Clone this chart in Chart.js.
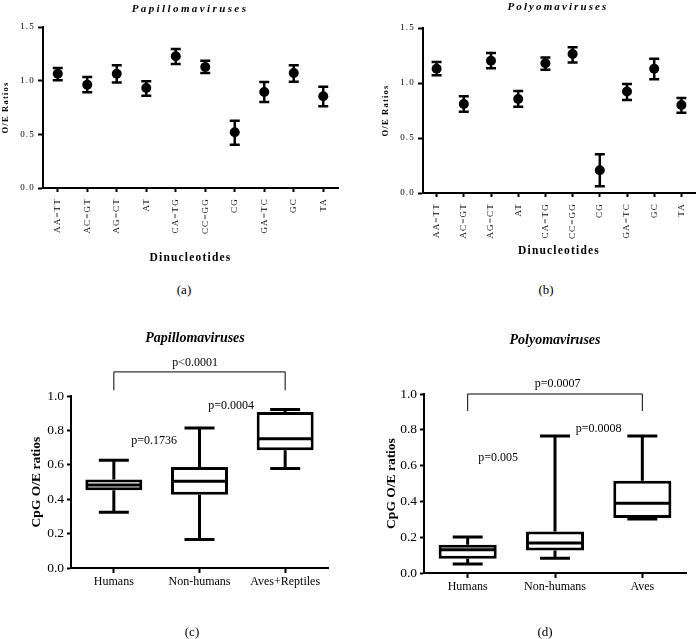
<!DOCTYPE html>
<html>
<head>
<meta charset="utf-8">
<script src="https://cdn.jsdelivr.net/npm/chart.js@4.4.1/dist/chart.umd.min.js"></script>
<style>
body { margin: 0; background: #fff; }
#page { position: relative; width: 700px; height: 639px; overflow: hidden; font-family: 'Liberation Serif', 'Times New Roman', serif; color: #000; }
canvas { position: absolute; }
.lbl { position: absolute; transform: translate(-50%, -50%); white-space: nowrap; line-height: 1; }
.ttlSmall { font-weight: bold; font-style: italic; font-size: 11px; }
.ttlBig { font-weight: bold; font-style: italic; font-size: 14px; }
.panel { font-size: 13px; }
</style>
</head>
<body>
<div id="page">
    <canvas id="papDinuc" width="350" height="270" style="left:0;top:0"></canvas>
    <canvas id="polDinuc" width="350" height="270" style="left:350px;top:0"></canvas>
    <canvas id="papBox" width="350" height="300" style="left:0;top:330px"></canvas>
    <canvas id="polBox" width="350" height="300" style="left:350px;top:330px"></canvas>

    <div class="lbl ttlSmall" style="left:190px;top:8px;letter-spacing:2.4px">Papillomaviruses</div>
    <div class="lbl ttlSmall" style="left:558px;top:6px;letter-spacing:2.1px">Polyomaviruses</div>
    <div class="lbl panel" style="left:184px;top:289px">(a)</div>
    <div class="lbl panel" style="left:546px;top:289px">(b)</div>
    <div class="lbl ttlBig" style="left:195px;top:338px">Papillomaviruses</div>
    <div class="lbl ttlBig" style="left:555px;top:340px">Polyomaviruses</div>
    <div class="lbl panel" style="left:192px;top:631px">(c)</div>
    <div class="lbl panel" style="left:545px;top:631px">(d)</div>
</div>

<script>
const serif = "'Liberation Serif', 'Times New Roman', serif";

// Dinucleotide O/E ratios, panels (a) and (b): mean with error bar ends
const dinucleotides = ['AA=TT', 'AC=GT', 'AG=CT', 'AT', 'CA=TG', 'CC=GG', 'CG', 'GA=TC', 'GC', 'TA'];
const papMeans = [1.065, 0.963, 1.065, 0.932, 1.227, 1.127, 0.519, 0.894, 1.071, 0.854];
const papLow   = [1.003, 0.891, 0.984, 0.860, 1.155, 1.071, 0.404, 0.801, 0.991, 0.761];
const papHigh  = [1.118, 1.034, 1.143, 0.994, 1.295, 1.186, 0.627, 0.988, 1.143, 0.944];
const polMeans = [1.129, 0.809, 1.202, 0.855, 1.180, 1.263, 0.207, 0.922, 1.129, 0.800];
const polLow   = [1.071, 0.739, 1.135, 0.785, 1.120, 1.186, 0.061, 0.846, 1.034, 0.730];
const polHigh  = [1.190, 0.879, 1.272, 0.928, 1.232, 1.326, 0.353, 0.992, 1.220, 0.864];
const dinucTicks = [0, 0.5, 1.0, 1.5];

// CpG O/E ratio box plots, panels (c) and (d)
const papHosts  = ['Humans', 'Non-humans', 'Aves+Reptiles'];
const papMin    = [0.324, 0.165, 0.578];
const papQ1     = [0.452, 0.426, 0.684];
const papMedian = [0.483, 0.504, 0.752];
const papQ3     = [0.515, 0.587, 0.907];
const papMax    = [0.626, 0.814, 0.921];

const polHosts  = ['Humans', 'Non-humans', 'Aves'];
const polMin    = [0.050, 0.082, 0.301];
const polQ1     = [0.080, 0.126, 0.307];
const polMedian = [0.130, 0.167, 0.390];
const polQ3     = [0.158, 0.232, 0.515];
const polMax    = [0.201, 0.766, 0.766];
const boxTicks  = [0, 0.2, 0.4, 0.6, 0.8, 1.0];

// p-value notes: text, category position, value position
const papNotes = [['p<0.0001', 0.95, 1.19], ['p=0.0004', 1.37, 0.94], ['p=0.1736', 0.47, 0.742]];
const polNotes = [['p=0.0007', 1.03, 1.056], ['p=0.0008', 1.5, 0.805], ['p=0.005', 0.35, 0.643]];
// brackets: from category, to category, top value, end value
const papBracket = [0, 2, 1.14, 1.033];
const polBracket = [0, 2, 1.0, 0.905];


/* Kicks off processes to build the four panels
*/
const init = () => {
    buildDinucChart('papDinuc', papMeans, papLow, papHigh,
        { top: 27, right: 12, yWidth: 43, xHeight: 82, yTitlePad: 1, xTitlePad: 5 });
    buildDinucChart('polDinuc', polMeans, polLow, polHigh,
        { top: 28, right: 2, yWidth: 73, xHeight: 77, yTitlePad: 31, xTitlePad: 12 });
    buildBoxChart('papBox', papHosts, papMin, papQ1, papMedian, papQ3, papMax, papNotes, papBracket,
        { top: 66, right: 22, yWidth: 71, xHeight: 62, yTitlePad: 28.6 });
    buildBoxChart('polBox', polHosts, polMin, polQ1, polMedian, polQ3, polMax, polNotes, polBracket,
        { top: 64, right: 14, yWidth: 74, xHeight: 57, yTitlePad: 33.6 });
}


// shared axis look: black outward tick marks, black axis line
const axisLook = (tickLen) => ({
    grid: { display: true, offset: false, drawOnChartArea: false, drawTicks: true,
            tickLength: tickLen, tickColor: '#000', tickWidth: 2 },
    border: { display: true, color: '#000', width: 2 }
});

// canvas letter spacing for the GraphPad-style small panels
const spacedText = (px) => ({
    id: 'spacedText',
    beforeDraw(chart) { chart.ctx.letterSpacing = px + 'px'; }
});

// vertical error bars with caps
const errorBars = (low, high) => ({
    id: 'errorBars',
    beforeDatasetsDraw(chart) {
        const { ctx, scales: { x, y } } = chart;
        ctx.save();
        ctx.strokeStyle = '#000';
        ctx.lineWidth = 2.5;
        low.forEach((lo, i) => {
            const px = x.getPixelForValue(i);
            const top = y.getPixelForValue(high[i]);
            const bot = y.getPixelForValue(lo);
            ctx.beginPath();
            ctx.moveTo(px, top); ctx.lineTo(px, bot);
            ctx.moveTo(px - 5, top); ctx.lineTo(px + 5, top);
            ctx.moveTo(px - 5, bot); ctx.lineTo(px + 5, bot);
            ctx.stroke();
        });
        ctx.restore();
    }
});

// whiskers and median lines on top of the floating bars
const whiskers = (min, q1, median, q3, max) => ({
    id: 'whiskers',
    afterDatasetsDraw(chart) {
        const { ctx, scales: { y } } = chart;
        const bars = chart.getDatasetMeta(0).data;
        ctx.save();
        ctx.strokeStyle = '#000';
        ctx.lineWidth = 3;
        bars.forEach((bar, i) => {
            const half = bar.width / 2;
            const cap = 15;
            const yMax = y.getPixelForValue(max[i]);
            const yMin = y.getPixelForValue(min[i]);
            ctx.beginPath();
            ctx.moveTo(bar.x, y.getPixelForValue(q3[i])); ctx.lineTo(bar.x, yMax);
            ctx.moveTo(bar.x - cap, yMax); ctx.lineTo(bar.x + cap, yMax);
            ctx.moveTo(bar.x, y.getPixelForValue(q1[i])); ctx.lineTo(bar.x, yMin);
            ctx.moveTo(bar.x - cap, yMin); ctx.lineTo(bar.x + cap, yMin);
            const yMed = y.getPixelForValue(median[i]);
            ctx.moveTo(bar.x - half + 1.5, yMed); ctx.lineTo(bar.x + half - 1.5, yMed);
            ctx.stroke();
        });
        ctx.restore();
    }
});

// significance bracket and p-value texts
const pValues = (notes, bracket) => ({
    id: 'pValues',
    afterDraw(chart) {
        const { ctx, scales: { x, y } } = chart;
        ctx.save();
        ctx.strokeStyle = '#000';
        ctx.lineWidth = 1;
        const x0 = x.getPixelForValue(bracket[0]);
        const x1 = x.getPixelForValue(bracket[1]);
        const yTop = y.getPixelForValue(bracket[2]);
        const yEnd = y.getPixelForValue(bracket[3]);
        ctx.beginPath();
        ctx.moveTo(x0, yEnd); ctx.lineTo(x0, yTop); ctx.lineTo(x1, yTop); ctx.lineTo(x1, yEnd);
        ctx.stroke();
        ctx.fillStyle = '#000';
        ctx.font = '12px ' + serif;
        ctx.textAlign = 'center';
        ctx.textBaseline = 'middle';
        notes.forEach(([text, cx, cy]) => {
            ctx.fillText(text, x.getPixelForValue(cx), y.getPixelForValue(cy));
        });
        ctx.restore();
    }
});


/* Builds one dinucleotide O/E panel (mean +/- error)
*/
const buildDinucChart = (canvasId, means, low, high, geo) => {
    const config = {
        type: 'line',
        data: {
            labels: dinucleotides,
            datasets: [{
                data: means,
                showLine: false,
                pointRadius: 5,
                pointHoverRadius: 5,
                pointBackgroundColor: '#000',
                pointBorderWidth: 0
            }]
        },
        options: {
            responsive: false,
            animation: false,
            events: [],
            layout: { padding: { top: geo.top, right: geo.right, left: 0, bottom: 0 } },
            plugins: { legend: { display: false }, tooltip: { enabled: false } },
            scales: {
                x: {
                    offset: true,
                    ...axisLook(4),
                    ticks: { color: '#000', minRotation: 90, maxRotation: 90, padding: 6,
                             font: { family: serif, size: 9 } },
                    title: { display: true, text: 'Dinucleotides', color: '#000',
                             font: { family: serif, size: 11.5, weight: 'bold' },
                             padding: { top: 0, bottom: geo.xTitlePad } },
                    afterFit: (s) => { s.height = geo.xHeight; }
                },
                y: {
                    min: 0,
                    max: 1.5,
                    ...axisLook(5),
                    afterBuildTicks: (s) => { s.ticks = dinucTicks.map(v => ({ value: v })); },
                    ticks: { color: '#000', padding: 3, font: { family: serif, size: 9 },
                             callback: (v) => v.toFixed(1) },
                    title: { display: true, text: 'O/E Ratios', color: '#000',
                             font: { family: serif, size: 8.5, weight: 'bold' },
                             padding: { top: geo.yTitlePad, bottom: 0 } },
                    afterFit: (s) => { s.width = geo.yWidth; }
                }
            }
        },
        plugins: [spacedText(1.2), errorBars(low, high)]
    };
    const ctx = document.getElementById(canvasId).getContext('2d');
    new Chart(ctx, config);
}


/* Builds one CpG O/E box plot panel
*/
const buildBoxChart = (canvasId, hosts, min, q1, median, q3, max, notes, bracket, geo) => {
    const config = {
        type: 'bar',
        data: {
            labels: hosts,
            datasets: [{
                data: q1.map((v, i) => [v, q3[i]]),
                backgroundColor: '#fff',
                borderColor: '#000',
                borderWidth: 3,
                borderSkipped: false,
                barPercentage: 0.665,
                categoryPercentage: 1
            }]
        },
        options: {
            responsive: false,
            animation: false,
            events: [],
            layout: { padding: { top: geo.top, right: geo.right, left: 0, bottom: 0 } },
            plugins: { legend: { display: false }, tooltip: { enabled: false } },
            scales: {
                x: {
                    ...axisLook(5),
                    ticks: { color: '#000', padding: 2, font: { family: serif, size: 12 } },
                    afterFit: (s) => { s.height = geo.xHeight; }
                },
                y: {
                    min: 0,
                    max: 1,
                    ...axisLook(4),
                    afterBuildTicks: (s) => { s.ticks = boxTicks.map(v => ({ value: v })); },
                    ticks: { color: '#000', padding: 3, font: { family: serif, size: 13.5 },
                             callback: (v) => v.toFixed(1) },
                    title: { display: true, text: 'CpG O/E ratios', color: '#000',
                             font: { family: serif, size: 13.5, weight: 'bold' },
                             padding: { top: geo.yTitlePad, bottom: 0 } },
                    afterFit: (s) => { s.width = geo.yWidth; }
                }
            }
        },
        plugins: [whiskers(min, q1, median, q3, max), pValues(notes, bracket)]
    };
    const ctx = document.getElementById(canvasId).getContext('2d');
    new Chart(ctx, config);
}

/* Kicks off JS after DOM content is loaded */
document.addEventListener("DOMContentLoaded", () => {
    init();
});
</script>
</body>
</html>
